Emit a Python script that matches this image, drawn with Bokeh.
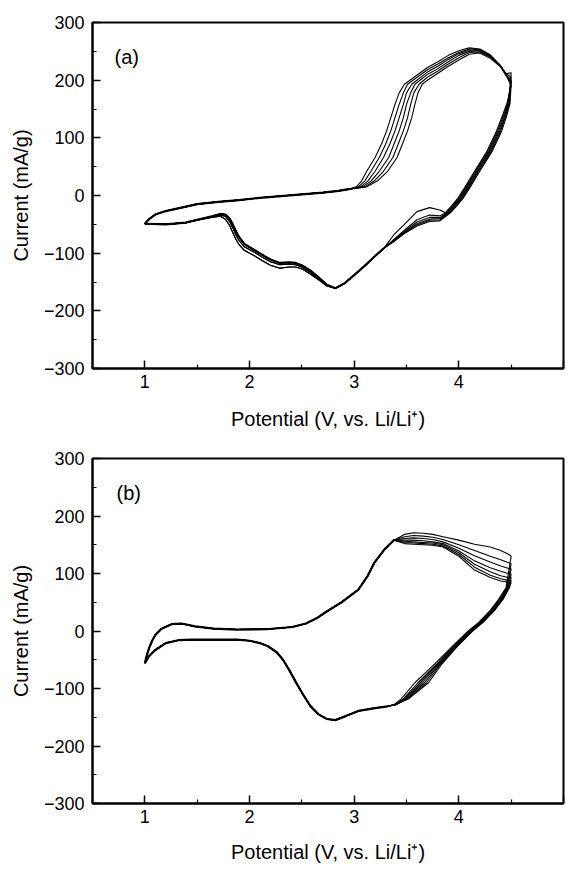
from bokeh.plotting import figure
from bokeh.layouts import column
from bokeh.models import Range1d, FixedTicker, Label
from bokeh.core.properties import value
from bokeh.embed import file_html
from bokeh.resources import INLINE

FONT = "Liberation Sans"

# ---------------- axis ticks ----------------
X_MAJOR = [1, 2, 3, 4, 5]
X_MINOR = [1.5, 2.5, 3.5, 4.5]
Y_MAJOR = [-300, -200, -100, 0, 100, 200, 300]
Y_MINOR = [-250, -150, -50, 50, 150, 250]
X_LABEL = "Potential (V, vs. Li/Li\u207a)"
Y_LABEL = "Current (mA/g)"

# ---------------- panel (a) ----------------
# anodic sweep, shared part 1.0 -> 3.0 V
A_ANO_X = [1.00, 1.04, 1.10, 1.20, 1.35, 1.50, 1.70, 1.90, 2.10, 2.30, 2.50, 2.70, 2.85, 2.95]
A_ANO_Y = [-49, -41, -33, -27, -21, -15, -11, -8, -4, -1, 2, 5, 8, 11]
# anodic rise (current levels shared, potential per cycle)
A_RISE_Y = [15, 25, 42, 66, 89, 112, 135, 158, 178, 193]
A_RISE_X = [
    [3.02, 3.07, 3.12, 3.20, 3.26, 3.31, 3.35, 3.39, 3.43, 3.48],
    [3.04, 3.10, 3.16, 3.24, 3.30, 3.35, 3.39, 3.43, 3.47, 3.51],
    [3.06, 3.13, 3.20, 3.28, 3.34, 3.39, 3.43, 3.47, 3.50, 3.55],
    [3.08, 3.16, 3.24, 3.33, 3.38, 3.43, 3.47, 3.50, 3.54, 3.58],
    [3.10, 3.19, 3.28, 3.37, 3.42, 3.47, 3.51, 3.54, 3.57, 3.62],
    [3.12, 3.22, 3.32, 3.41, 3.46, 3.51, 3.55, 3.58, 3.61, 3.65],
]
# anodic peak region (potential shared, current per cycle)
A_TOP_X = [3.70, 3.80, 3.90, 4.00, 4.10, 4.20, 4.30, 4.40, 4.45, 4.50]
A_TOP_Y = [
    [222, 232, 243, 251, 256, 254, 244, 225, 210, 190],
    [218, 228, 239, 248, 254, 253, 243, 224, 209, 198],
    [214, 224, 236, 246, 252, 252, 242, 224, 212, 205],
    [210, 220, 232, 243, 250, 251, 241, 224, 211, 213],
    [205, 216, 228, 239, 248, 249, 240, 224, 210, 200],
    [200, 212, 224, 235, 245, 247, 238, 223, 208, 195],
]
# cathodic descent from 4.5 V (current shared, potential per cycle)
A_CATH_Y = [160, 140, 112, 77, 42, 15, -5, -18, -30]
A_CATH_X = [
    [4.46, 4.42, 4.36, 4.27, 4.15, 4.06, 3.99, 3.93, 3.87],
    [4.47, 4.43, 4.37, 4.28, 4.16, 4.07, 4.00, 3.94, 3.88],
    [4.47, 4.44, 4.38, 4.29, 4.17, 4.08, 4.01, 3.95, 3.89],
    [4.48, 4.45, 4.39, 4.30, 4.18, 4.09, 4.02, 3.96, 3.90],
    [4.48, 4.45, 4.40, 4.31, 4.19, 4.10, 4.03, 3.97, 3.91],
    [4.49, 4.46, 4.41, 4.32, 4.20, 4.11, 4.04, 3.98, 3.92],
]
# cathodic shoulder near 3.8 V
A_SHLD_X = [3.82, 3.72, 3.60, 3.48, 3.38]
A_SHLD_Y = [
    [-25, -21, -28, -50, -68],
    [-35, -34, -42, -60, -76],
    [-38, -38, -46, -62, -77],
    [-40, -41, -49, -64, -78],
    [-42, -43, -51, -65, -79],
    [-44, -45, -53, -66, -80],
]
# cathodic low part 3.3 -> 1.0 V (three distinguishable traces)
A_LOW_X = [3.28, 3.20, 3.10, 3.00, 2.91, 2.82, 2.74, 2.66, 2.58, 2.51, 2.44, 2.38, 2.29, 2.20,
           2.14, 2.05, 1.95, 1.90, 1.87, 1.84, 1.81, 1.77, 1.72, 1.64, 1.50, 1.39, 1.20, 1.00]
A_LOW_Y = [
    [-92, -105, -122, -138, -152, -161, -155, -142, -130, -122, -117, -116, -117, -111,
     -105, -95, -84, -72, -62, -50, -40, -33, -32, -36, -42, -47, -50, -49],
    [-92, -105, -122, -138, -152, -161, -156, -144, -133, -125, -120, -119, -120, -115,
     -109, -99, -89, -78, -68, -56, -45, -36, -34, -37, -43, -47, -50, -49],
    [-92, -105, -122, -138, -152, -161, -157, -146, -136, -128, -124, -124, -126, -121,
     -115, -105, -95, -85, -76, -64, -52, -41, -36, -38, -43, -47, -50, -49],
]
A_LOW_TRACE = [2, 2, 1, 1, 0, 0]

# ---------------- panel (b) ----------------
B_ANO_X = [1.00, 1.02, 1.04, 1.07, 1.10, 1.16, 1.26, 1.35, 1.48, 1.66, 1.88, 2.16, 2.41,
           2.54, 2.64, 2.73, 2.88, 3.04, 3.13, 3.19, 3.29, 3.38]
B_ANO_Y = [-56, -42, -30, -17, -7, 4, 12, 13, 8, 4, 2.5, 3, 7,
           13, 22, 33, 50, 72, 96, 118, 142, 158]
B_TOP_X = [3.48, 3.57, 3.66, 3.75, 3.85, 4.00, 4.15, 4.30, 4.40, 4.47, 4.50]
B_TOP_Y = [
    [168, 171, 170, 168, 164, 158, 151, 146, 140, 134, 130],
    [164, 166, 165, 163, 159, 150, 140, 130, 124, 119, 117],
    [161, 162, 161, 159, 155, 144, 131, 120, 113, 109, 108],
    [158, 158, 157, 155, 152, 139, 122, 110, 104, 100, 99],
    [156, 155, 154, 153, 150, 136, 116, 103, 96, 93, 93],
    [154, 153, 152, 151, 148, 133, 111, 97, 91, 88, 88],
    [152, 151, 150, 149, 146, 130, 106, 93, 87, 85, 84],
]
B_CATH_Y = [75, 55, 36, 15, 0, -28, -57, -90, -118, -128]
B_CATH_X = [
    [4.45, 4.38, 4.30, 4.19, 4.09, 3.93, 3.77, 3.58, 3.45, 3.38],
    [4.46, 4.39, 4.31, 4.20, 4.10, 3.94, 3.79, 3.61, 3.47, 3.39],
    [4.46, 4.40, 4.32, 4.21, 4.11, 3.95, 3.80, 3.63, 3.48, 3.39],
    [4.47, 4.41, 4.33, 4.22, 4.12, 3.96, 3.81, 3.65, 3.49, 3.40],
    [4.47, 4.41, 4.33, 4.22, 4.12, 3.97, 3.82, 3.67, 3.50, 3.40],
    [4.48, 4.42, 4.34, 4.23, 4.13, 3.97, 3.83, 3.69, 3.51, 3.40],
    [4.48, 4.42, 4.34, 4.23, 4.13, 3.98, 3.84, 3.71, 3.52, 3.40],
]
B_LOW_X = [3.32, 3.20, 3.04, 2.92, 2.82, 2.74, 2.66, 2.58, 2.51, 2.44, 2.38, 2.32, 2.26,
           2.18, 2.10, 2.00, 1.88, 1.63, 1.45, 1.32, 1.20, 1.10, 1.04, 1.00]
B_LOW_Y = [-131, -134, -139, -148, -155, -153, -145, -130, -110, -88, -68, -50, -37,
           -27, -21, -17, -15, -15, -15, -16, -21, -33, -44, -56]


def cycles_a():
    out = []
    for k in range(len(A_RISE_X)):
        xs = A_ANO_X + A_RISE_X[k] + A_TOP_X + A_CATH_X[k] + A_SHLD_X + A_LOW_X
        ys = A_ANO_Y + A_RISE_Y + A_TOP_Y[k] + A_CATH_Y + A_SHLD_Y[k] + A_LOW_Y[A_LOW_TRACE[k]]
        out.append((xs, ys))
    return out


def cycles_b():
    out = []
    for k in range(len(B_TOP_Y)):
        xs = B_ANO_X + B_TOP_X + B_CATH_X[k] + B_LOW_X
        ys = B_ANO_Y + B_TOP_Y[k] + B_CATH_Y + B_LOW_Y
        out.append((xs, ys))
    return out


def make_panel(tag, tag_x, tag_y, cycles, overlays, height, b_top, b_bottom, xlab_standoff):
    p = figure(width=565, height=height, x_range=Range1d(0.5, 5), y_range=Range1d(-300, 300),
               output_backend="svg", toolbar_location=None,
               min_border_left=92, min_border_right=2, min_border_top=b_top,
               min_border_bottom=b_bottom)
    p.grid.visible = False
    p.outline_line_color = "black"
    p.outline_line_width = 2
    p.background_fill_color = "white"
    p.border_fill_color = "white"

    p.xaxis.ticker = FixedTicker(ticks=X_MAJOR, minor_ticks=X_MINOR)
    p.yaxis.ticker = FixedTicker(ticks=Y_MAJOR, minor_ticks=Y_MINOR)
    p.xaxis.axis_label = X_LABEL
    p.yaxis.axis_label = Y_LABEL
    # the last x tick label sits on the page edge; it is drawn separately below
    p.xaxis.major_label_overrides = {X_MAJOR[-1]: ""}
    for ax in (p.xaxis[0], p.yaxis[0]):
        ax.axis_line_color = "black"
        ax.axis_line_width = 2
        ax.major_tick_in = 8
        ax.major_tick_out = 0
        ax.minor_tick_in = 4
        ax.minor_tick_out = 0
        ax.major_tick_line_width = 1.5
        ax.minor_tick_line_width = 1.2
        ax.major_tick_line_color = "black"
        ax.minor_tick_line_color = "black"
        ax.major_label_text_font = FONT
        ax.major_label_text_font_size = "18px"
        ax.major_label_text_color = "black"
        ax.axis_label_text_font = FONT
        ax.axis_label_text_font_size = "20px"
        ax.axis_label_text_font_style = "normal"
        ax.axis_label_text_color = "black"
    p.xaxis.major_label_standoff = 6
    p.xaxis.axis_label_standoff = xlab_standoff
    p.yaxis.major_label_standoff = 8
    p.yaxis.axis_label_standoff = 9

    p.add_layout(Label(x=X_MAJOR[-1], y=-300, text=str(X_MAJOR[-1]), x_offset=1, y_offset=-6,
                       text_align="right", text_baseline="top", text_font=FONT,
                       text_font_size="18px", text_color="black"))

    for xs, ys in overlays:
        p.line(xs, ys, line_color="black", line_width=2.2)
    for xs, ys in cycles:
        p.line(xs, ys, line_color="black", line_width=1.1)

    p.text(x=[tag_x], y=[tag_y], text=[tag], text_font=value(FONT), text_font_size="20px",
           text_align="left", text_baseline="middle", text_color="black")
    return p


pa = make_panel("(a)", 0.71, 240, cycles_a(),
                [(A_ANO_X, A_ANO_Y), (A_LOW_X, A_LOW_Y[0])],
                height=441, b_top=22, b_bottom=73, xlab_standoff=17)
pb = make_panel("(b)", 0.73, 240, cycles_b(),
                [(B_ANO_X, B_ANO_Y), (B_LOW_X, B_LOW_Y)],
                height=430, b_top=17, b_bottom=68, xlab_standoff=15)

layout = column(pa, pb, spacing=0)
open("out.html", "w").write(file_html(layout, INLINE))
